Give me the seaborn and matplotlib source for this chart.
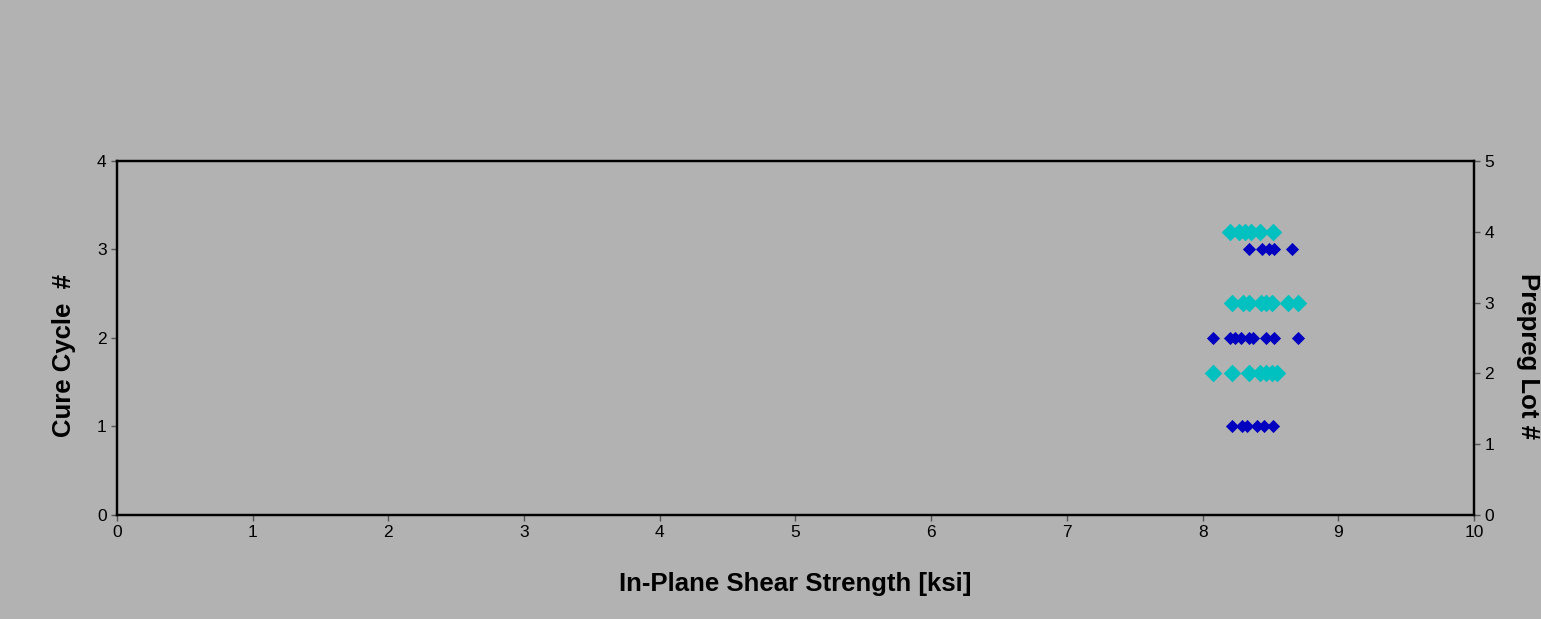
import numpy as np
import pandas as pd
import matplotlib
matplotlib.use("Agg")
import matplotlib.pyplot as plt
import seaborn as sns

# -----------------------------
# Data
# -----------------------------
# Cure cycle # (left axis) -> shear strength values [ksi]
cure1 = [8.22, 8.29, 8.33, 8.40, 8.45, 8.52]
cure2 = [8.08, 8.20, 8.24, 8.28, 8.34, 8.37, 8.47, 8.53, 8.70]
cure3 = [8.34, 8.44, 8.49, 8.53, 8.66]

# Prepreg lot # (right axis) -> shear strength values [ksi]
lot2 = [8.08, 8.22, 8.34, 8.42, 8.47, 8.51, 8.55]
lot3 = [8.22, 8.30, 8.34, 8.43, 8.47, 8.51, 8.63, 8.70]
lot4 = [8.20, 8.27, 8.31, 8.36, 8.42, 8.52]

cure_df = pd.DataFrame({
    'Strength': cure1 + cure2 + cure3,
    'Cure': [1] * len(cure1) + [2] * len(cure2) + [3] * len(cure3),
})
lot_df = pd.DataFrame({
    'Strength': lot2 + lot3 + lot4,
    'Lot': [2] * len(lot2) + [3] * len(lot3) + [4] * len(lot4),
})

# -----------------------------
# Plot
# -----------------------------
bg = '#B2B2B2'
sns.set_style('ticks')
plt.rcParams['font.family'] = ['Liberation Sans', 'DejaVu Sans']
plt.rcParams['text.color'] = 'black'
plt.rcParams['axes.labelcolor'] = 'black'

fig = plt.figure(figsize=(15.41, 6.19), dpi=100, facecolor=bg)
ax = fig.add_axes([0.0759, 0.168, 0.8806, 0.572])
ax.set_facecolor(bg)
ax2 = ax.twinx()

sns.scatterplot(data=cure_df, x='Strength', y='Cure', ax=ax, marker='D',
                color='#0000C0', s=45, linewidth=0, zorder=3)
sns.scatterplot(data=lot_df, x='Strength', y='Lot', ax=ax2, marker='D',
                color='#00C0C0', s=80, linewidth=0, zorder=3)

ax.set_xlim(0, 10)
ax.set_ylim(0, 4)
ax2.set_ylim(0, 5)
ax.set_xticks(range(0, 11))
ax.set_yticks(range(0, 5))
ax2.set_yticks(range(0, 6))

for a in (ax, ax2):
    for sp in a.spines.values():
        sp.set_color('black')
        sp.set_linewidth(1.6)
    a.tick_params(direction='out', length=4, width=1.0, color='#555555',
                  labelsize=12.5, labelcolor='black')

ax.set_xlabel('In-Plane Shear Strength [ksi]', fontsize=18.5,
              fontweight='bold', labelpad=23)
ax.set_ylabel('Cure Cycle  #', fontsize=18.5, fontweight='bold', labelpad=15)
ax2.set_ylabel('Prepreg Lot #', fontsize=18.5, fontweight='bold',
               rotation=270, labelpad=33)
ax.yaxis.label.set_y(0.45)
ax2.yaxis.label.set_y(0.45)

fig.savefig('out.png', dpi=100, facecolor=bg)
